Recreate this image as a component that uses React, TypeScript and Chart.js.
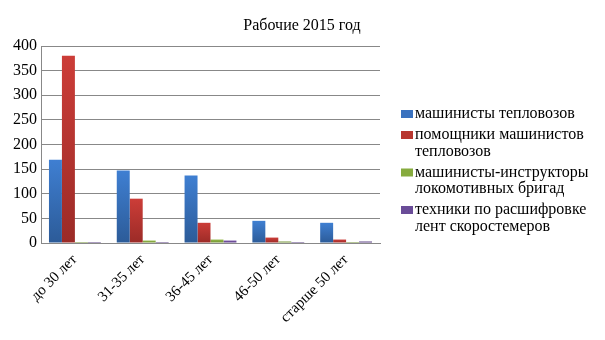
import React, { useEffect, useRef } from "react";
import { Chart, registerables } from "chart.js";

Chart.register(...registerables);

const chartTitle = "Рабочие 2015 год";
const categories = ["до 30 лет", "31-35 лет", "36-45 лет", "46-50 лет", "старше 50 лет"];
const seriesNames = [
  ["машинисты тепловозов"],
  ["помощники машинистов", "тепловозов"],
  ["машинисты-инструкторы", "локомотивных бригад"],
  ["техники по расшифровке", "лент скоростемеров"],
];
const drivers = [169, 147, 137, 45, 41];
const assistants = [380, 90, 41, 11, 7];
const instructors = [1, 5, 7, 3, 1];
const technicians = [1, 1, 5, 1, 3];
const yTicks = [0, 50, 100, 150, 200, 250, 300, 350, 400];

const colorsTop = ["#3f7fd2", "#cc3d38", "#94b84a", "#7a58a8"];
const colorsBottom = ["#2c5b98", "#9b2b27", "#6f8f30", "#583c80"];
const legendColors = ["#3a72bf", "#b8362f", "#86ab3e", "#6a4c98"];

const FONT = "'Liberation Serif', 'Times New Roman', serif";

function gradientFill(idx: number) {
  return (ctx: any) => {
    const chart = ctx.chart;
    const area = chart.chartArea;
    if (!area || ctx.type !== "data") return colorsTop[idx];
    const y = chart.scales.y;
    const v = ctx.parsed ? ctx.parsed.y : ctx.raw;
    const top = y.getPixelForValue(v);
    const bottom = y.getPixelForValue(0);
    if (!isFinite(top) || !isFinite(bottom) || bottom - top < 2) return colorsBottom[idx];
    const g = chart.ctx.createLinearGradient(0, top, 0, bottom);
    g.addColorStop(0, colorsTop[idx]);
    g.addColorStop(1, colorsBottom[idx]);
    return g;
  };
}

const legendPlugin = {
  id: "customLegend",
  afterDraw(chart: any) {
    const ctx = chart.ctx;
    ctx.save();
    ctx.fillStyle = "#000";
    ctx.font = `16px ${FONT}`;
    ctx.textBaseline = "middle";
    ctx.textAlign = "center";
    ctx.fillText(chartTitle, 302, 26);
    ctx.font = `16px ${FONT}`;
    ctx.textAlign = "left";
    const lineH = 16.5;
    const gap = 4.5;
    let y = 114;
    seriesNames.forEach((lines, i) => {
      ctx.fillStyle = legendColors[i];
      ctx.fillRect(401, y - 4, 12, 8);
      ctx.fillStyle = "#000";
      lines.forEach((t, j) => {
        ctx.fillText(t, 415, y + j * lineH);
      });
      y += lines.length * lineH + gap;
    });
    ctx.restore();
  },
};

export default function App() {
  const ref = useRef<HTMLCanvasElement>(null);
  useEffect(() => {
    const data = [drivers, assistants, instructors, technicians];
    const chart = new Chart(ref.current!, {
      type: "bar",
      data: {
        labels: categories,
        datasets: data.map((d, i) => ({
          label: seriesNames[i].join(" "),
          data: d,
          backgroundColor: gradientFill(i),
          borderWidth: 0,
          minBarLength: 1,
          categoryPercentage: 0.765,
          barPercentage: 1,
        })),
      },
      options: {
        animation: false,
        responsive: false,
        layout: { padding: { left: 0, right: 225, top: 46, bottom: 0 } },
        plugins: {
          legend: { display: false },
          tooltip: { enabled: false },
          title: { display: false },
        },
        scales: {
          x: {
            grid: { display: false, drawTicks: false },
            border: { color: "#888", width: 1 },
            ticks: {
              color: "#000",
              font: { family: FONT, size: 15 },
              minRotation: 45,
              maxRotation: 45,
              padding: 8,
            },
            afterFit: (s: any) => {
              s.height = 97;
            },
          },
          y: {
            min: 0,
            max: 400,
            afterBuildTicks: (s: any) => {
              s.ticks = yTicks.map((v) => ({ value: v }));
            },
            grid: { color: "#888", drawTicks: false, lineWidth: 1 },
            border: { color: "#888", width: 1 },
            ticks: {
              color: "#000",
              font: { family: FONT, size: 16 },
              padding: 4,
            },
            afterFit: (s: any) => {
              s.width = 41;
            },
          },
        },
      },
      plugins: [legendPlugin],
    });
    return () => chart.destroy();
  }, []);
  return (
    <div style={{ position: "fixed", left: 0, top: 0, width: 605, height: 340, background: "#fff" }}>
      <canvas ref={ref} width={605} height={340} />
    </div>
  );
}
